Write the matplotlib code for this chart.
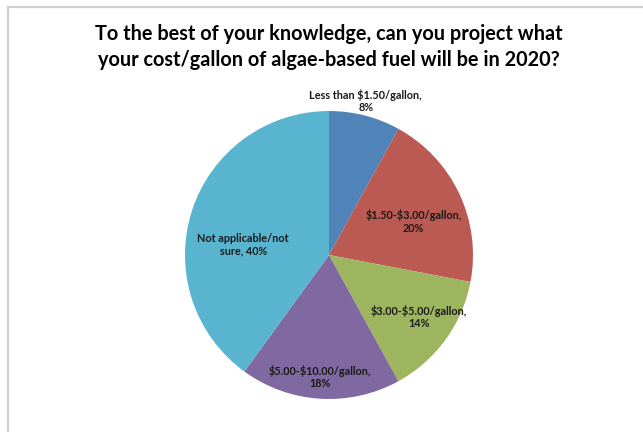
import numpy as np
import matplotlib
matplotlib.use("Agg")
import matplotlib.pyplot as plt
from matplotlib.lines import Line2D

plt.rcParams['font.family'] = ['Lato', 'DejaVu Sans']
plt.rcParams['text.parse_math'] = False

title = ("To the best of your knowledge, can you project what\n"
         "your cost/gallon of algae-based fuel will be in 2020?")
categories = ["Less than $1.50/gallon", "$1.50-$3.00/gallon", "$3.00-$5.00/gallon",
              "$5.00-$10.00/gallon", "Not applicable/not\nsure"]
shares = [8, 20, 14, 18, 40]
colors = ["#5083b8", "#bb5a52", "#9cb55e", "#8069a0", "#58b4cf"]

# label placement: radial distance (pie radius = 1) and angular nudge in degrees
label_r = [1.10, 0.63, 0.76, 0.85, 0.60]
label_nudge = [1.0, -3.5, 1.5, -0.5, 11.0]

W, H, dpi = 643, 432, 100
fig = plt.figure(figsize=(W / dpi, H / dpi), dpi=dpi)
fig.patch.set_facecolor("white")

ax = fig.add_axes([0, 0, 1, 1])
scale = 144.0            # pixels per unit radius
cx, cy = 329.0, 255.0    # pie centre in pixels (from top-left)

wedges, _ = ax.pie(shares, colors=colors, startangle=90, counterclock=False,
                   radius=1.0, center=(0, 0), frame=True,
                   wedgeprops=dict(linewidth=0))
ax.set_xlim(-cx / scale, (W - cx) / scale)
ax.set_ylim(-(H - cy) / scale, cy / scale)
ax.axis("off")

for w, cat, val, r, nud in zip(wedges, categories, shares, label_r, label_nudge):
    mid = np.deg2rad((w.theta1 + w.theta2) / 2 + nud)
    if "\n" in cat:
        text = f"{cat}, {val}%"
    else:
        text = f"{cat},\n{val}%"
    ax.text(r * np.cos(mid), r * np.sin(mid), text, ha="center", va="center",
            fontsize=7.8, fontweight="bold", color="#1a1a1a", linespacing=1.2)

fig.text(cx / W, 1 - 47 / H, title, ha="center", va="center",
         fontsize=14.3, fontweight="bold", color="black", linespacing=1.35)

# chart-area border (left and top edges)
border = "#d0d0d0"
fig.add_artist(Line2D([7.5 / W, 7.5 / W], [0, 1 - 6.5 / H], color=border, lw=1.6,
                      transform=fig.transFigure))
fig.add_artist(Line2D([7.5 / W, 1], [1 - 6.5 / H, 1 - 6.5 / H], color=border, lw=1.6,
                      transform=fig.transFigure))

fig.savefig("out.png", dpi=dpi, facecolor="white")
